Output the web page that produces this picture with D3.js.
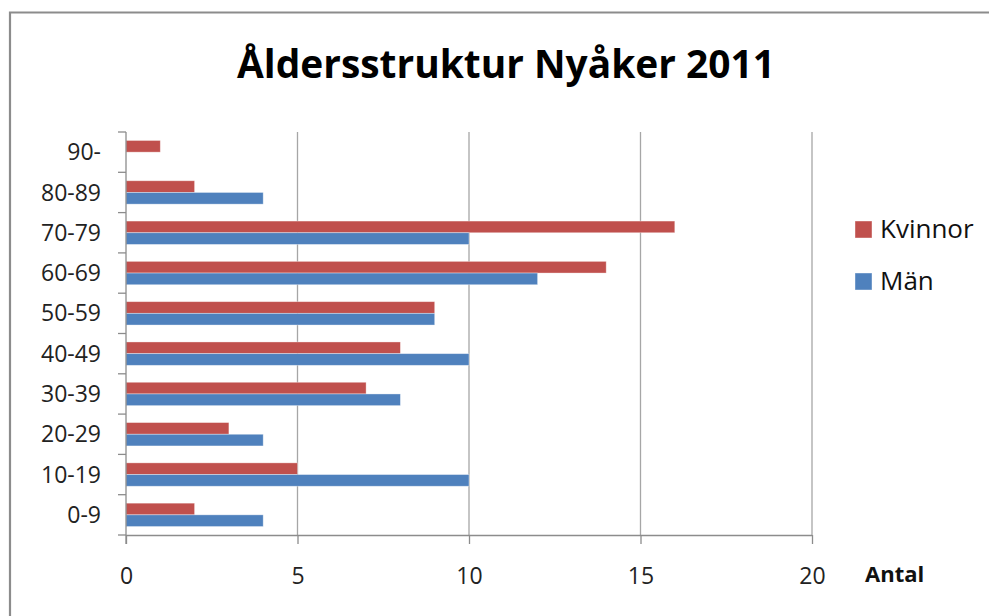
<!DOCTYPE html>
<html><head><meta charset="utf-8">
<script src="https://cdn.jsdelivr.net/npm/d3@7"></script>
<style>
html,body{margin:0;padding:0;background:#fff;}
text{font-family:"Open Sans","Noto Sans",sans-serif;}
</style></head>
<body><svg id="c" width="989" height="616"></svg>
<script>
const categories = ["90-","80-89","70-79","60-69","50-59","40-49","30-39","20-29","10-19","0-9"];
const kvinnor = [1,2,16,14,9,8,7,3,5,2];
const man = [0,4,10,12,9,10,8,4,10,4];
const seriesNames = ["Kvinnor","Män"];
const xTicks = [0,5,10,15,20];
const colors = ["#C0504D","#4F81BD"];

(function(){
const svg = d3.select("#c");
svg.append("rect").attr("x",0).attr("y",0).attr("width",989).attr("height",616).attr("fill","#fff");
// frame
svg.append("path").attr("d","M10,616 V12.5 H989").attr("fill","none").attr("stroke","#8c8c8c").attr("stroke-width",2.2);

const pL=126, pR=812, pT=132, pB=535;
const x = d3.scaleLinear().domain([0,20]).range([pL,pR]);
const y = d3.scaleBand().domain(categories).range([pT,pB]).paddingInner(0.42).paddingOuter(0.21);
const sub = d3.scaleBand().domain(seriesNames).range([0,y.bandwidth()]);
const yb = d3.scaleBand().domain(categories).range([pT,pB]);

// gridlines
svg.append("g").selectAll("line").data(xTicks.filter(d=>d>0)).join("line")
  .attr("x1",d=>x(d)).attr("x2",d=>x(d)).attr("y1",pT).attr("y2",pB)
  .attr("stroke","#a6a6a6").attr("stroke-width",1.3);

// bars
const data = categories.map((c,i)=>({c, vals:[kvinnor[i],man[i]]}));
const g = svg.append("g");
data.forEach(d=>{
  seriesNames.forEach((s,j)=>{
    if(d.vals[j]>0){
      g.append("rect").attr("x",x(0)).attr("y",y(d.c)+sub(s))
        .attr("width",x(d.vals[j])-x(0)).attr("height",sub.bandwidth())
        .attr("fill",colors[j]).attr("stroke","rgba(255,255,255,0.45)").attr("stroke-width",0.8);
    }
  });
});

// x axis
const xa = svg.append("g").attr("transform",`translate(0,${pB})`)
  .call(d3.axisBottom(x).tickValues(xTicks).tickSize(9).tickPadding(24));
xa.attr("font-size",null).attr("font-family",null);
xa.select(".domain").attr("stroke","#8c8c8c").attr("stroke-width",1.3).attr("d",`M${pL},0.5H${pR}`);
xa.selectAll(".tick line").attr("stroke","#8c8c8c").attr("stroke-width",1.3);
xa.selectAll(".tick text").style("font-size","23px").attr("fill","#222");

// y axis with ticks at band boundaries
const yg = svg.append("g");
yg.append("line").attr("x1",pL).attr("x2",pL).attr("y1",pT).attr("y2",pB+9).attr("stroke","#8c8c8c").attr("stroke-width",1.3);
const bounds = categories.map(c=>yb(c)).concat([pB]);
yg.selectAll("line.t").data(bounds).join("line").attr("class","t")
  .attr("x1",pL-8).attr("x2",pL).attr("y1",d=>d).attr("y2",d=>d)
  .attr("stroke","#8c8c8c").attr("stroke-width",1.3);
yg.selectAll("text").data(categories).join("text")
  .attr("x",pL-25).attr("y",d=>yb(d)+yb.bandwidth()/2)
  .attr("dy","0.35em").attr("text-anchor","end").style("font-size","23px").attr("fill","#222")
  .text(d=>d);

// title
svg.append("text").attr("x",506).attr("y",78).attr("text-anchor","middle")
  .style("font-size","40px").attr("font-weight","bold").attr("fill","#000")
  .attr("textLength",538).attr("lengthAdjust","spacingAndGlyphs")
  .text("Åldersstruktur Nyåker 2011");

// Antal
svg.append("text").attr("x",865).attr("y",582).style("font-size","22px").attr("font-weight","bold").attr("fill","#111").text("Antal");

// legend
const lg = svg.append("g");
const legY = [229,281];
seriesNames.forEach((s,j)=>{
  lg.append("rect").attr("x",855).attr("y",legY[j]-8).attr("width",17).attr("height",17).attr("fill",colors[j])
    .attr("stroke","rgba(255,255,255,0.5)").attr("stroke-width",0.8);
  lg.append("text").attr("x",880).attr("y",legY[j]).attr("dy","0.35em").style("font-size","26px").attr("fill","#111").text(s);
});
})();
</script></body></html>
